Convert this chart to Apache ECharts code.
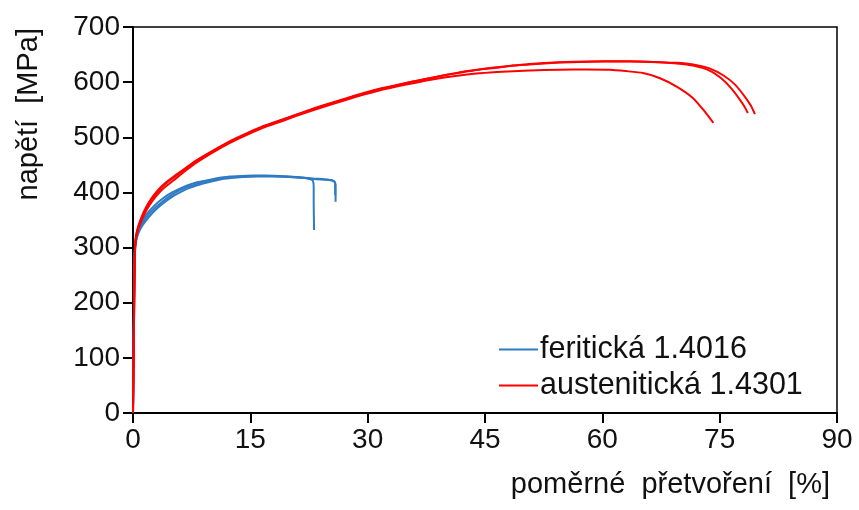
<!DOCTYPE html>
<html>
<head>
<meta charset="utf-8">
<script src="https://cdn.jsdelivr.net/npm/echarts@6/dist/echarts.min.js"></script>
<style>
  html, body { margin: 0; padding: 0; background: #fff; }
  #chart { width: 859px; height: 510px; }
</style>
</head>
<body>
<div id="chart"></div>
<script>
// Tensile test curves: strain [%] vs stress [MPa]
const xTicks = [0, 15, 30, 45, 60, 75, 90];
const yTicks = [0, 100, 200, 300, 400, 500, 600, 700];
const seriesNames = ['feritická 1.4016', 'austenitická 1.4301'];

// Ferritic 1.4016 specimens
const ferriticA = [[0,0],[0.08,120],[0.15,240],[0.22,295],[0.35,315],[0.6,330],[1.0,343],[1.7,360],[2.8,377],[3.8,389],[5,400],[6,407],[7,413],[8.1,418],[9.2,421],[10.2,424],[11.3,427],[12.4,429],[14,430],[15.5,430.5],[17,430.5],[18.8,430],[20,429],[21,428],[22,426],[22.7,424],[23.0,421],[23.1,410],[23.1,380],[23.15,332]];
const ferriticB = [[0,0],[0.08,115],[0.16,235],[0.24,292],[0.4,312],[0.7,326],[1.2,340],[2,355],[3,370],[4,382],[5,392],[6,400],[7,407],[8.2,413],[9.5,418],[11,423],[12.5,426],[14,428],[16,429],[18,429],[20,428],[22,426],[23.5,424],[24.5,423],[25.3,422],[25.7,420],[25.9,415],[25.9,400],[25.9,383]];
const ferriticC = [[0,0],[0.08,118],[0.15,238],[0.23,294],[0.38,313],[0.65,328],[1.1,342],[1.8,357],[2.9,373],[3.9,385],[5,396],[6,404],[7,410],[8.1,415],[9.3,420],[10.5,424],[12,427],[13.5,429],[15.5,430],[17.5,430],[19.5,429],[21.5,427],[23.2,425],[24.5,424],[25.4,422],[25.8,419],[25.85,405],[25.85,395]];

// Austenitic 1.4301 specimens
const austeniticA = [[0,0],[0.1,130],[0.2,260],[0.3,310],[0.5,330],[1,352],[1.7,374],[2.5,392],[3.3,406],[4.2,418],[5.2,429],[6.5,442],[8.1,458],[10,474],[12.4,493],[14.5,507],[16.6,520],[18.8,531],[20.9,541],[23,552],[25.2,562],[27.3,571],[29.4,580],[31.5,588],[33.7,595],[35.8,601],[37.9,607],[40,613],[42.2,619],[44.3,623],[46.5,627],[48.6,630],[50.7,633],[54.5,636],[58.4,637.5],[62,638],[65,637.5],[67.3,636],[69.5,634],[71.6,630],[73.7,621],[75.2,607],[76.4,590],[77.6,568],[78.2,555],[78.6,544]];
const austeniticB = [[0,0],[0.1,128],[0.2,258],[0.3,308],[0.5,328],[1,350],[1.7,372],[2.5,390],[3.3,404],[4.2,416],[5.2,427],[6.5,441],[8.1,457],[10,473],[12.4,492],[14.5,506],[16.6,519],[18.8,530],[20.9,541],[23,551],[25.2,561],[27.3,570],[29.4,579],[31.5,587],[33.7,594],[35.8,601],[37.9,607],[40,613],[42.2,618],[44.3,623],[46.5,626],[48.6,630],[50.7,632],[54.5,635.5],[58.4,637],[62,637.5],[65,637],[67.3,636],[69.5,635],[71.6,632],[73.7,625],[75.5,612],[77,595],[78.3,572],[79,557],[79.5,542]];
const austeniticC = [[0,0],[0.1,125],[0.2,255],[0.3,305],[0.5,325],[1,346],[1.7,367],[2.5,385],[3.3,399],[4.2,411],[5.2,422],[6.5,437],[8.1,454],[10,471],[12.4,490],[14.5,504],[16.6,517],[18.8,528],[20.9,539],[23,549],[25.2,559],[27.3,568],[29.4,577],[31.5,585],[33.7,592],[35.8,598],[37.9,604],[40,609],[42.2,613],[44.3,616],[46.5,618.5],[50.7,621],[54.5,622.5],[58,623],[61,622.5],[63,620],[65.2,616.5],[67.3,607.5],[69.5,592],[71.6,571],[72.9,550],[74.2,526]];

const BLUE = '#2F7BC4';
const RED = '#FF0000';
const INK = '#111111';
const FONT = 'Arial, "Liberation Sans", sans-serif';

function curve(name, data, color) {
  return {
    name: name,
    type: 'line',
    data: data,
    showSymbol: false,
    symbol: 'none',
    smooth: 0.2,
    silent: true,
    lineStyle: { color: color, width: 2 },
    itemStyle: { color: color },
    animation: false
  };
}

const chart = echarts.init(document.getElementById('chart'), null, { renderer: 'canvas' });
chart.setOption({
  animation: false,
  backgroundColor: '#fff',
  grid: {
    left: 133, right: 22, top: 27, bottom: 97,
    show: true, borderColor: '#000', borderWidth: 1.5, backgroundColor: 'transparent'
  },
  xAxis: {
    type: 'value',
    min: xTicks[0], max: xTicks[xTicks.length - 1], interval: 15,
    axisLine: { show: true, onZero: false, lineStyle: { color: '#000', width: 2 } },
    axisTick: { show: true, inside: false, length: 10, lineStyle: { color: '#000', width: 2 } },
    splitLine: { show: false },
    axisLabel: { color: INK, fontSize: 28, fontFamily: FONT, margin: 13 }
  },
  yAxis: {
    type: 'value',
    min: yTicks[0], max: yTicks[yTicks.length - 1], interval: 100,
    axisLine: { show: true, onZero: false, lineStyle: { color: '#000', width: 2 } },
    axisTick: { show: true, inside: false, length: 10, lineStyle: { color: '#000', width: 2 } },
    splitLine: { show: false },
    axisLabel: { color: INK, fontSize: 28, fontFamily: FONT, margin: 13 }
  },
  legend: {
    data: seriesNames,
    orient: 'vertical',
    left: 494,
    top: 329,
    itemWidth: 39,
    itemHeight: 2,
    itemGap: 5,
    icon: 'rect',
    selectedMode: false,
    textStyle: { color: INK, fontSize: 30.5, fontFamily: FONT, lineHeight: 31, padding: [0, 0, 0, -3] }
  },
  graphic: [
    {
      type: 'text',
      right: 29, top: 470,
      style: { text: 'poměrné  přetvoření  [%]', fill: INK, font: '29px ' + FONT }
    },
    {
      type: 'text',
      left: 14, top: 28,
      rotation: Math.PI / 2,
      originX: 0, originY: 0,
      style: { text: 'napětí  [MPa]', fill: INK, font: '29px ' + FONT }
    }
  ],
  series: [
    curve(seriesNames[0], ferriticA, BLUE),
    curve(seriesNames[0], ferriticB, BLUE),
    curve(seriesNames[0], ferriticC, BLUE),
    curve(seriesNames[1], austeniticA, RED),
    curve(seriesNames[1], austeniticB, RED),
    curve(seriesNames[1], austeniticC, RED)
  ]
});
</script>
</body>
</html>
